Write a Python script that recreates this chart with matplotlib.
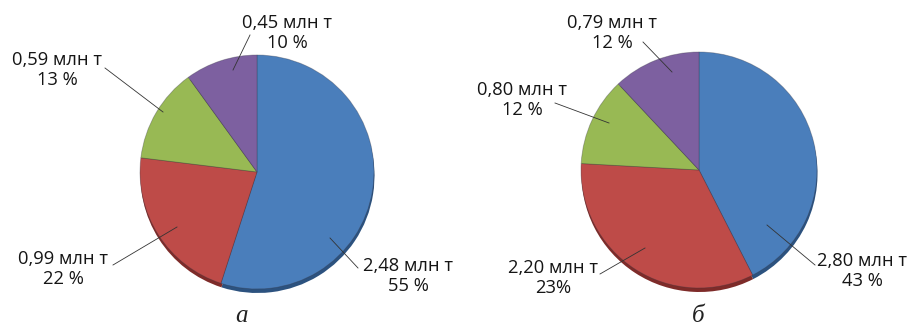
import matplotlib
matplotlib.use("Agg")
import matplotlib.pyplot as plt
import numpy as np

# Production shares, million tonnes (left: "а", right: "б")
values_a = [2.48, 0.99, 0.59, 0.45]
values_b = [2.80, 2.20, 0.80, 0.79]
labels_a = ["2,48 млн т\n55 %", "0,99 млн т\n22 %", "0,59 млн т\n13 %", "0,45 млн т\n10 %"]
labels_b = ["2,80 млн т\n43 %", "2,20 млн т\n23%", "0,80 млн т\n12 %", "0,79 млн т\n12 %"]
captions = ["а", "б"]

colors = ["#4A7EBB", "#BE4B48", "#98B954", "#7D60A0"]
shadow_colors = ["#2C527F", "#7E2B29", "#5F7A32", "#4F3A69"]

W, H = 909, 332
fig = plt.figure(figsize=(W / 100, H / 100), dpi=100)
ax = fig.add_axes([0, 0, 1, 1])


def P(x, y):
    """Pixel position (origin top-left) to axes data coords."""
    return (x, H - y)


panels = [
    dict(values=values_a, labels=labels_a, center=(257, 172), r=117,
         caption=captions[0], cap_xy=(241, 316),
         # (text centre, leader start, leader end) in pixels
         lab=[((408, 276), (358, 268), (330, 238)),
              ((63, 269), (113, 265), (177, 227)),
              ((57, 70), (105, 68), (163, 112)),
              ((287, 33), (250, 35), (233, 70))]),
    dict(values=values_b, labels=labels_b, center=(699, 170), r=118,
         caption=captions[1], cap_xy=(698, 316),
         lab=[((862, 271), (815, 265), (767, 225)),
              ((553, 278), (600, 274), (645, 248)),
              ((522, 100), (555, 103), (609, 123)),
              ((612, 33), (643, 42), (672, 72))]),
]

for p in panels:
    cx, cy = P(*p["center"])
    # rim shadow below the disc
    ax.pie(p["values"], colors=shadow_colors, startangle=90, counterclock=False,
           center=(cx + 0.5, cy - 4), radius=p["r"],
           wedgeprops=dict(linewidth=0, zorder=1))
    wedges, _ = ax.pie(p["values"], colors=colors, startangle=90, counterclock=False,
                       center=(cx, cy), radius=p["r"],
                       wedgeprops=dict(linewidth=0.6, edgecolor=(0.2, 0.2, 0.25, 0.35), zorder=2))
    for text, (txy, l0, l1) in zip(p["labels"], p["lab"]):
        ax.text(*P(*txy), text, ha="center", va="center", fontsize=13.2,
                family="Open Sans", linespacing=1.1, color="#151515", zorder=5)
        ax.plot([P(*l0)[0], P(*l1)[0]], [P(*l0)[1], P(*l1)[1]],
                color="#333333", lw=0.6, zorder=4)
    ax.text(*P(*p["cap_xy"]), p["caption"], ha="center", va="center",
            fontsize=18, family="Liberation Serif", style="italic", color="#222222")

ax.set_xlim(0, W)
ax.set_ylim(0, H)
ax.set_aspect("equal")
ax.axis("off")
fig.savefig("out.png", dpi=100, facecolor="white")
